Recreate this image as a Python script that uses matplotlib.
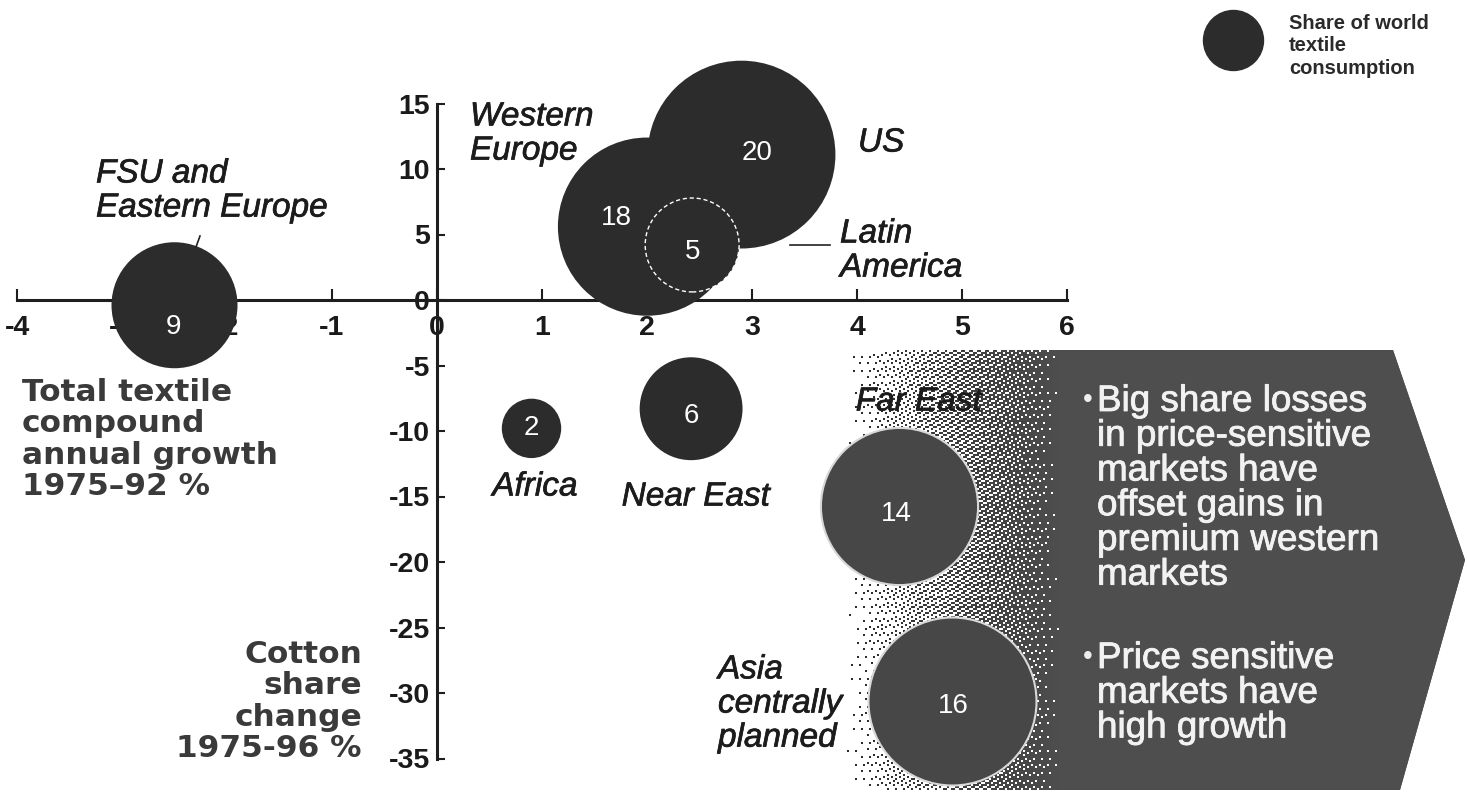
import numpy as np
import matplotlib
matplotlib.use("Agg")
import matplotlib.pyplot as plt
import matplotlib.patheffects as pe
from matplotlib.patches import Polygon
from matplotlib import font_manager

# ---------------- data ----------------
regions = ["US", "Western\nEurope", "Latin\nAmerica", "FSU and\nEastern Europe",
           "Africa", "Near East", "Far East", "Asia\ncentrally\nplanned"]
textile_growth = [2.9, 2.0, 2.43, -2.5, 0.9, 2.42, 4.4, 4.9]        # % CAGR 1975-92
cotton_change = [11.1, 5.6, 4.2, -0.4, -9.8, -8.3, -15.7, -30.6]     # % share change 1975-96
world_share = [20, 18, 5, 9, 2, 6, 14, 16]                           # share of world textile consumption
x_ticks = [-4, -3, -2, -1, 0, 1, 2, 3, 4, 5, 6]
y_ticks = [15, 10, 5, 0, -5, -10, -15, -20, -25, -30, -35]
bullets = ["Big share losses\nin price-sensitive\nmarkets have\noffset gains in\npremium western\nmarkets",
           "Price sensitive\nmarkets have\nhigh growth"]

# ---------------- fonts ----------------
avail = {f.name for f in font_manager.fontManager.ttflist}
SANS = "Liberation Sans"
NARROW = "Liberation Sans Narrow" if "Liberation Sans Narrow" in avail else SANS
WIDE = "DejaVu Sans"

W, H = 1467, 795
fig = plt.figure(figsize=(W / 100, H / 100), dpi=100)
fig.patch.set_facecolor("white")
ax = fig.add_axes([0, 0, 1, 1])
ax.patch.set_alpha(0)

# pixel layout of the origin and scale
X0, XU = 437, 105.0
Y0, YU = 300, 13.1
ax.set_xlim(-X0 / XU, (W - X0) / XU)
ax.set_ylim((Y0 - H) / YU, Y0 / YU)

def fx(px):
    return px / W

def fy(py):
    return 1 - py / H

# ---------------- axes ----------------
for s in ["top", "right"]:
    ax.spines[s].set_visible(False)
for s in ["left", "bottom"]:
    ax.spines[s].set_position(("data", 0))
    ax.spines[s].set_linewidth(2.2)
    ax.spines[s].set_color("#1e1e1e")
    ax.spines[s].set_zorder(2)
ax.spines["bottom"].set_bounds(min(x_ticks), max(x_ticks))
ax.spines["left"].set_bounds(min(y_ticks), max(y_ticks))

tick_size = 23 if NARROW != SANS else 20.5
ax.set_xticks(x_ticks)
ax.set_xticklabels([str(t) for t in x_ticks], fontfamily=NARROW, fontweight="bold",
                   fontsize=tick_size, color="#1a1a1a")
ax.set_yticks(y_ticks)
ax.set_yticklabels([str(t) for t in y_ticks], fontfamily=NARROW, fontweight="bold",
                   fontsize=tick_size, color="#1a1a1a")
ax.tick_params(axis="x", direction="in", length=8, width=1.5, color="#1e1e1e", pad=11)
ax.tick_params(axis="y", direction="in", length=6, width=1.5, color="#1e1e1e", pad=5)

# ---------------- arrow panel ----------------
arrow_px = [(835, 350), (1393, 350), (1465, 560), (1400, 790), (835, 790)]
arrow_col = np.array([0x4e, 0x4e, 0x4e]) / 255
poly = Polygon([(fx(a), fy(b)) for a, b in arrow_px], closed=True, transform=ax.transAxes,
               facecolor="none", edgecolor="none")
ax.add_patch(poly)

# stipple fading in from the left (deterministic R2 low-discrepancy dither)
x_lo, x_hi, y_lo, y_hi = 835, 1465, 350, 790
cell = 2
nx, ny = (x_hi - x_lo) // cell, (y_hi - y_lo) // cell
xs = np.arange(nx) * cell + x_lo
ramp = np.clip((xs - 845) / (1058 - 845), 0, 1) ** 1.1
gi, gj = np.meshgrid(np.arange(nx), np.arange(ny))
thr = np.mod(gi * 0.7548776662466927 + gj * 0.5698402909980532, 1.0)
thr = np.abs(2 * thr - 1)          # triangular remap for a more even grain
on = (ramp[None, :] >= thr).astype(float)
img = np.zeros((ny, nx, 4))
dark = np.clip(1 - ramp, 0, 1)[None, :, None]
img[..., :3] = arrow_col * (1 - 0.45 * dark)
img[..., 3] = on
im = ax.imshow(img, extent=(fx(x_lo), fx(x_lo + nx * cell), fy(y_lo + ny * cell), fy(y_lo)),
               transform=ax.transAxes, interpolation="nearest", aspect="auto", zorder=1)
im.set_clip_path(poly)
# solid body of the arrow right of the stipple
body = Polygon([(fx(a), fy(b)) for a, b in [(1062, 350), (1393, 350), (1465, 560), (1400, 790), (1062, 790)]],
               closed=True, transform=ax.transAxes, facecolor=arrow_col, edgecolor="none", zorder=1.1)
ax.add_patch(body)

txt_fx = [pe.withStroke(linewidth=0.6, foreground="#f2f2f2")]
for i, txt in enumerate(bullets):
    top = [384, 641][i]
    ax.text(fx(1083), fy(top + 3), "\u2022", transform=ax.transAxes, fontsize=20, color="#eeeeee",
            fontfamily=SANS, ha="left", va="top", zorder=6)
    ax.text(fx(1097), fy(top), txt, transform=ax.transAxes, fontsize=26.5, color="#f2f2f2",
            fontfamily=SANS, ha="left", va="top", linespacing=0.99, zorder=6, path_effects=txt_fx)

# ---------------- bubbles ----------------
PX_PER_PT = 100 / 72
R_PX = 21.0          # bubble radius in px per sqrt(share)
sizes = [(2 * R_PX * np.sqrt(s) / PX_PER_PT) ** 2 for s in world_share]
face = ["#2c2c2c", "#2c2c2c", "#2c2c2c", "#2c2c2c", "#2c2c2c", "#2c2c2c", "#474747", "#474747"]
edge = ["none", "none", "white", "none", "none", "none", "#d8d8d8", "#d8d8d8"]
lws = [0, 0, 1.0, 0, 0, 0, 1.5, 1.5]
lss = ["solid", "solid", (0, (3, 2)), "solid", "solid", "solid", "solid", "solid"]
order = [1, 0, 2, 3, 4, 5, 6, 7]
for k, i in enumerate(order):
    ax.scatter([textile_growth[i]], [cotton_change[i]], s=sizes[i], c=face[i],
               edgecolors=edge[i], linewidths=lws[i], linestyles=lss[i], zorder=3 + k * 0.01)

num_off = [(11, 1), (-22, 6), (0, -5), (-1, -16), (0, 0), (0, -5), (-2, -6), (1, -4)]
for i, s in enumerate(world_share):
    ax.annotate(str(s), (textile_growth[i], cotton_change[i]), xytext=num_off[i],
                textcoords="offset points", ha="center", va="center", color="white",
                fontsize=20, fontfamily=SANS, zorder=5)

# ---------------- region labels ----------------
lab_pos = [(858, 143, "left"), (470, 134, "left"), (840, 251, "left"), (96, 191, "left"),
           (535, 487, "center"), (696, 497, "center"), (982, 402, "right"), (718, 704, "left")]
thick = [pe.withStroke(linewidth=0.5, foreground="#1c1c1c")]
for i, name in enumerate(regions):
    px, py, ha = lab_pos[i]
    ax.text(fx(px), fy(py), name, transform=ax.transAxes, ha=ha, va="center",
            fontsize=24, fontstyle="italic", fontfamily=SANS, color="#1c1c1c",
            linespacing=1.13, zorder=4, path_effects=thick)

# leader lines
ax.plot([fx(790), fx(830)], [fy(245), fy(245)], transform=ax.transAxes, color="#222222", lw=1.2, zorder=4)
ax.plot([fx(200), fx(196)], [fy(236), fy(247)], transform=ax.transAxes, color="#222222", lw=1.2, zorder=4)

# ---------------- axis titles ----------------
ax.text(fx(22), fy(378), "Total textile\ncompound\nannual growth\n1975\u201392 %", transform=ax.transAxes,
        ha="left", va="top", fontsize=22.5, fontweight="bold", fontfamily=WIDE, color="#3a3a3a",
        linespacing=1.1, zorder=4)
ax.text(fx(362), fy(640), "Cotton\nshare\nchange\n1975-96 %", transform=ax.transAxes,
        ha="right", va="top", fontsize=22.5, fontweight="bold", fontfamily=WIDE, color="#3a3a3a",
        linespacing=1.1, zorder=4)

# ---------------- legend ----------------
ax.scatter([fx(1233)], [fy(40)], s=(60 / PX_PER_PT) ** 2, c="#2c2c2c",
           transform=ax.transAxes, zorder=3)
ax.text(fx(1289), fy(14), "Share of world\ntextile\nconsumption", transform=ax.transAxes,
        ha="left", va="top", fontsize=14.5, fontweight="bold", fontfamily=SANS, color="#2a2a2a",
        linespacing=1.22, zorder=4)

fig.savefig("out.png", dpi=100)
